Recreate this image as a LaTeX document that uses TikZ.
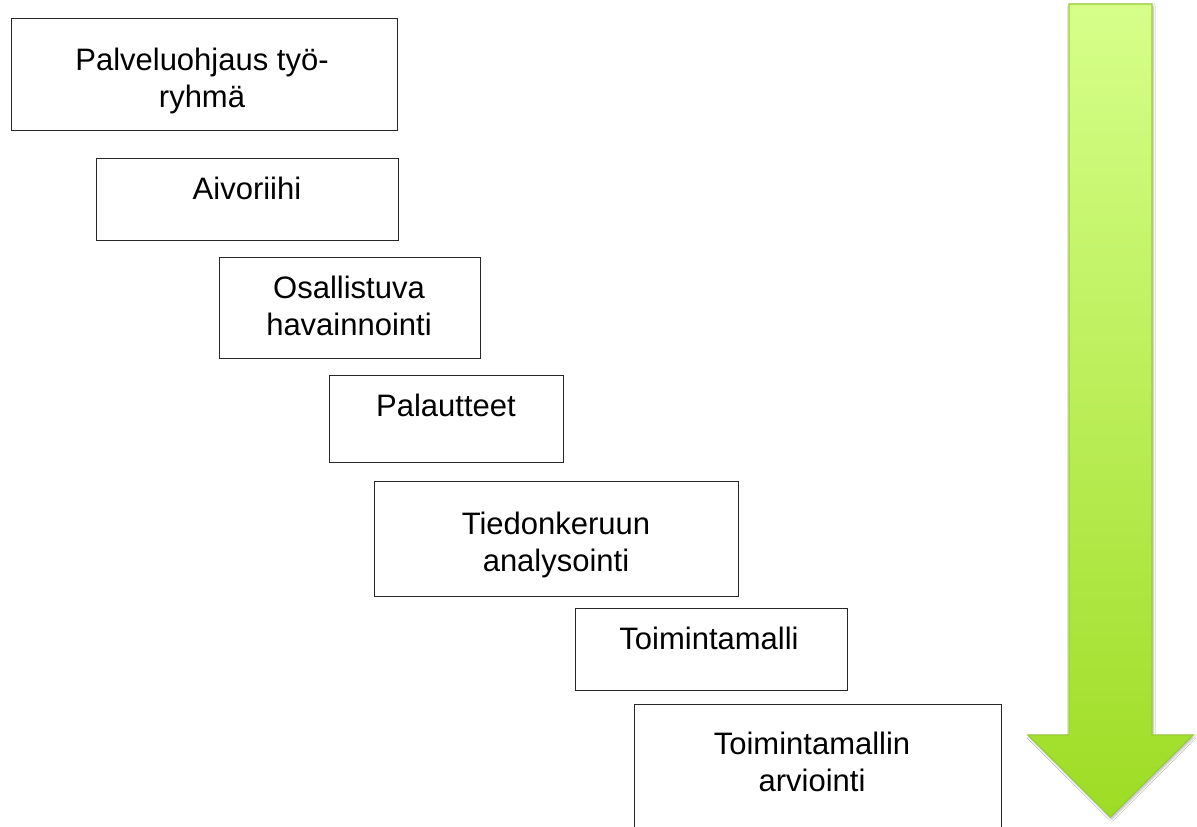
\documentclass[tikz,border=0pt]{standalone}
\usepackage{fontspec}
\setmainfont{Liberation Sans}
\usetikzlibrary{shadows.blur}
\definecolor{arrtop}{HTML}{D6FF8A}
\definecolor{arrbot}{HTML}{9EDC24}
\definecolor{arredge}{HTML}{98CF34}
\definecolor{boxline}{HTML}{262626}
\tikzset{
  stagebox/.style={draw=boxline, line width=1pt, fill=white, rectangle, inner sep=0pt, anchor=north west},
  stagetext/.style={inner sep=0pt, anchor=base, font=\fontsize{31}{37}\selectfont, text=black}
}
\newcommand{\stlines}[1]{\begin{tabular}[t]{@{}c@{}}#1\end{tabular}}
\begin{document}
\begin{tikzpicture}[x=1pt,y=-1pt]
\useasboundingbox (0,0) rectangle (1197,827);
\clip (0,0) rectangle (1197,827);
\fill[white] (0,0) rectangle (1197,827);

% boxes
\node[stagebox, minimum width=386pt, minimum height=112pt] (b1) at (11,18) {};
\node[stagebox, minimum width=302pt, minimum height=82pt] (b2) at (96,158) {};
\node[stagebox, minimum width=261pt, minimum height=101pt] (b3) at (219,257) {};
\node[stagebox, minimum width=234pt, minimum height=87pt] (b4) at (329,375) {};
\node[stagebox, minimum width=364pt, minimum height=115pt] (b5) at (374,481) {};
\node[stagebox, minimum width=272pt, minimum height=82pt] (b6) at (575,608) {};
\node[stagebox, minimum width=367pt, minimum height=140pt] (b7) at (634,704) {};

% texts
\node[stagetext] (t1) at (202,70) {\stlines{Palveluohjaus työ-\\ryhmä}};
\node[stagetext] (t2) at (247,199) {\stlines{Aivoriihi}};
\node[stagetext] (t3) at (349,298) {\stlines{Osallistuva\\havainnointi}};
\node[stagetext] (t4) at (446,416) {\stlines{Palautteet}};
\node[stagetext] (t5) at (556,534) {\stlines{Tiedonkeruun\\analysointi}};
\node[stagetext] (t6) at (709,649) {\stlines{Toimintamalli}};
\node[stagetext] (t7) at (812,754) {\stlines{Toimintamallin\\arviointi}};

% big arrow
\path[blur shadow={shadow xshift=1pt, shadow yshift=-2pt, shadow blur steps=8, shadow opacity=30},
      top color=arrtop, bottom color=arrbot, draw=arredge, line width=1.3pt, line join=miter]
  (1069,4) -- (1152,4) -- (1152,735) -- (1193,735) -- (1110.5,817) -- (1028,735) -- (1069,735) -- cycle;
\end{tikzpicture}
\end{document}
